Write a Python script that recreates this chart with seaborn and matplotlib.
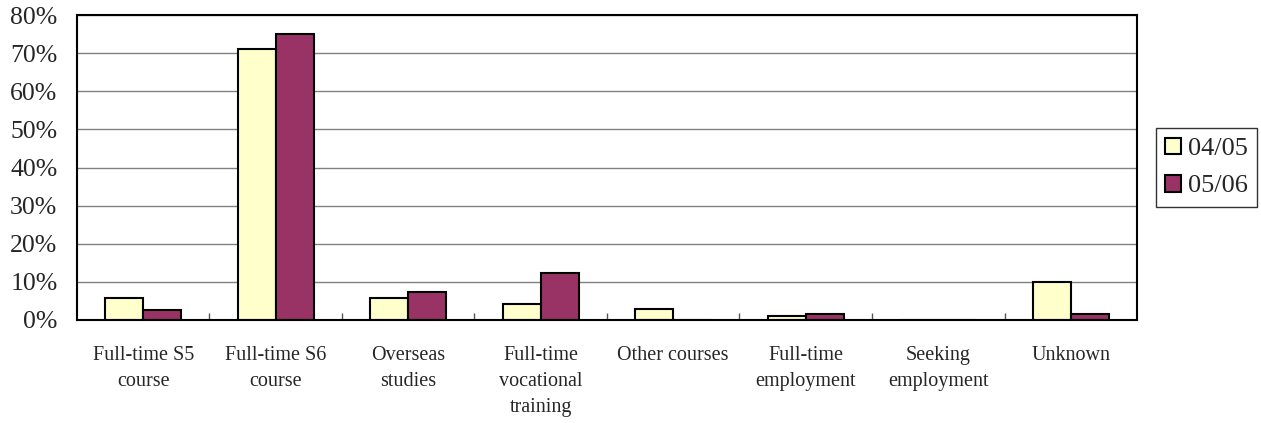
import pandas as pd
import matplotlib.pyplot as plt
import seaborn as sns
from matplotlib.ticker import FixedLocator, PercentFormatter

categories = ['Full-time S5\ncourse', 'Full-time S6\ncourse', 'Overseas\nstudies',
              'Full-time\nvocational\ntraining', 'Other courses', 'Full-time\nemployment',
              'Seeking\nemployment', 'Unknown']
y0405 = [5.8, 71.1, 5.8, 4.1, 3.0, 1.0, 0.0, 10.0]
y0506 = [2.5, 75.1, 7.3, 12.2, 0.0, 1.5, 0.0, 1.5]
series = ['04/05', '05/06']

df = pd.DataFrame({
    'cat': categories * 2,
    'val': y0405 + y0506,
    'year': [series[0]] * len(categories) + [series[1]] * len(categories),
})

sns.set_style('white')
plt.rcParams['font.family'] = ['Liberation Serif', 'DejaVu Serif']

fig = plt.figure(figsize=(12.61, 4.23), dpi=100)
ax = fig.add_axes([0.061, 0.2435, 0.8407, 0.721])

sns.barplot(data=df, x='cat', y='val', hue='year', order=categories, hue_order=series,
            palette=['#FFFFCC', '#993366'], width=0.574, edgecolor='black',
            linewidth=1.5, saturation=1, ax=ax, legend=True)

ax.set_ylim(0, 80)
ax.set_xlim(-0.5, len(categories) - 0.5)
ax.set_yticks(range(0, 81, 10))
ax.yaxis.set_major_formatter(PercentFormatter(decimals=0))
ax.yaxis.grid(True, color='#808080', linewidth=1)
ax.set_axisbelow(True)
ax.set_xlabel('')
ax.set_ylabel('')

ax.tick_params(axis='y', labelsize=18.5, length=0, pad=14)
ax.tick_params(axis='x', which='major', labelsize=14.5, length=0, pad=19)
ax.xaxis.set_minor_locator(FixedLocator([i + 0.5 for i in range(len(categories) - 1)]))
ax.tick_params(axis='x', which='minor', direction='in', length=5, width=1, color='#555555', bottom=True)
for lbl in ax.get_xticklabels():
    lbl.set_verticalalignment('top')
    lbl.set_linespacing(1.5)

for s in ax.spines.values():
    s.set_color('black')
    s.set_linewidth(1.5)
    s.set_visible(True)

leg = ax.legend(loc='center left', bbox_to_anchor=(1.018, 0.5), fontsize=19, frameon=True,
                fancybox=False, edgecolor='black', handlelength=0.6, handleheight=0.6,
                handletextpad=0.25, borderpad=0.35, labelspacing=0.55, borderaxespad=0)
leg.get_frame().set_linewidth(1)

fig.savefig('out.png', dpi=100)
